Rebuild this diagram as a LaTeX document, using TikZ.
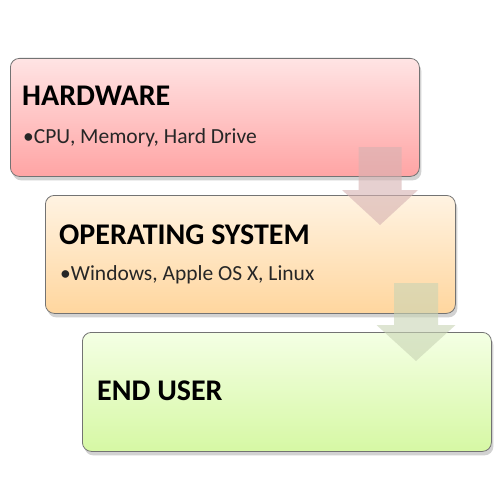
\documentclass[tikz,border=0pt]{standalone}
\usepackage{fontspec}
\setmainfont{Carlito}
\usetikzlibrary{calc,shadows}

\tikzset{
  layerbox/.style={draw=black!55, line width=0.8pt, rounded corners=9pt,
    anchor=north west, inner sep=0pt,
    drop shadow={shadow xshift=2pt, shadow yshift=-4pt, opacity=0.25, fill=black!70}},
  layertitle/.style={anchor=base west, inner sep=0pt, font=\fontsize{30}{32}\selectfont\bfseries},
  layeritem/.style={anchor=base west, inner sep=0pt, text=black!85, font=\fontsize{21.5}{24}\selectfont},
  flowarrow/.style={fill opacity=0.6, draw=none}
}

\definecolor{hwtop}{RGB}{255,228,228}
\definecolor{hwbot}{RGB}{255,164,164}
\definecolor{ostop}{RGB}{255,243,226}
\definecolor{osbot}{RGB}{255,214,158}
\definecolor{eutop}{RGB}{244,255,228}
\definecolor{eubot}{RGB}{214,248,164}
\definecolor{arrowred}{RGB}{214,178,178}
\definecolor{arrowgreen}{RGB}{200,212,180}

\begin{document}
\begin{tikzpicture}[x=1pt,y=-1pt]

% Page frame
\useasboundingbox[fill=white] (0,0) rectangle (500,500);

% The three layers
\node[layerbox, top color=hwtop, bottom color=hwbot,
  minimum width=409pt, minimum height=118pt] (hw) at (10,58) {};
\node[layerbox, top color=ostop, bottom color=osbot,
  minimum width=410pt, minimum height=118pt] (os) at (45,195) {};
\node[layerbox, top color=eutop, bottom color=eubot,
  minimum width=409pt, minimum height=119pt] (eu) at (82,332) {};

% Labels
\node[layertitle] (hwtitle) at ($(hw.north west)+(12,48)$) {HARDWARE};
\node[layeritem] (hwitem) at ($(hw.north west)+(13,85)$) {•CPU, Memory, Hard Drive};
\node[layertitle] (ostitle) at ($(os.north west)+(14,49)$) {OPERATING SYSTEM};
\node[layeritem] (ositem) at ($(os.north west)+(15,85)$) {•Windows, Apple OS X, Linux};
\node[layertitle] (eutitle) at ($(eu.north west)+(15,68)$) {END USER};

% Block arrows between the layers
\coordinate (a1) at (380,147);
\coordinate (a2) at (416,283);
\fill[flowarrow, arrowred] ($(a1)+(-21.5,0)$) -- ($(a1)+(21.5,0)$) -- ($(a1)+(21.5,43)$)
  -- ($(a1)+(38,43)$) -- ($(a1)+(0,78)$) -- ($(a1)+(-38,43)$) -- ($(a1)+(-21.5,43)$) -- cycle;
\fill[flowarrow, arrowgreen] ($(a2)+(-22,0)$) -- ($(a2)+(22,0)$) -- ($(a2)+(22,42)$)
  -- ($(a2)+(39.5,42)$) -- ($(a2)+(0,78)$) -- ($(a2)+(-39.5,42)$) -- ($(a2)+(-22,42)$) -- cycle;

\end{tikzpicture}
\end{document}
